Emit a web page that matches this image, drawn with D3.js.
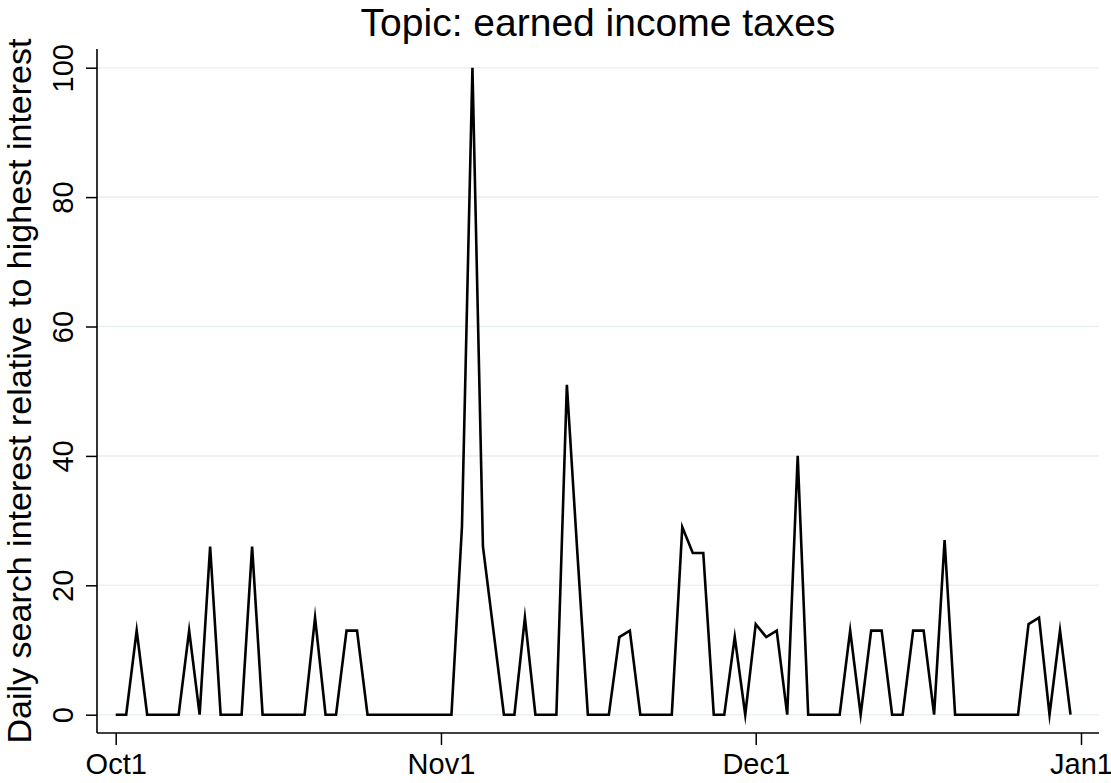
<!DOCTYPE html>
<html>
<head>
<meta charset="utf-8">
<script src="https://cdn.jsdelivr.net/npm/d3@7"></script>
<style>
  html, body { margin: 0; padding: 0; background: #fff; }
  svg { display: block; }
  text { font-family: "Liberation Sans", Arial, Helvetica, sans-serif; fill: #000; }
</style>
</head>
<body>
<svg id="chart" width="1111" height="783"></svg>
<script>
// ---- data ----
const title = "Topic: earned income taxes";
const yTitle = "Daily search interest relative to highest interest";
const startDate = "2018-10-01";
const values = [
  0, 0, 13, 0, 0, 0, 0, 13, 0, 26,
  0, 0, 0, 26, 0, 0, 0, 0, 0, 15,
  0, 0, 13, 13, 0, 0, 0, 0, 0, 0,
  0, 0, 0, 29, 100, 26, 13, 0, 0, 15,
  0, 0, 0, 51, 25, 0, 0, 0, 12, 13,
  0, 0, 0, 0, 29, 25, 25, 0, 0, 12,
  0, 14, 12, 13, 0, 40, 0, 0, 0, 0,
  13, 0, 13, 13, 0, 0, 13, 13, 0, 27,
  0, 0, 0, 0, 0, 0, 0, 14, 15, 0,
  13, 0
];
const xTickDates = ["2018-10-01", "2018-11-01", "2018-12-01", "2019-01-01"];
const xTickLabels = ["Oct1", "Nov1", "Dec1", "Jan1"];
const yTicks = [0, 20, 40, 60, 80, 100];

// ---- layout ----
const svg = d3.select("#chart");
const parse = d3.utcParse("%Y-%m-%d");
const t0 = parse(startDate);
const series = values.map((v, i) => ({ date: d3.utcDay.offset(t0, i), value: v }));
const tickDates = xTickDates.map(parse);

const plot = { left: 97, right: 1099, top: 49, bottom: 733 };

const x = d3.scaleUtc()
  .domain([tickDates[0], tickDates[tickDates.length - 1]])
  .range([115.7, 1081]);
const y = d3.scaleLinear().domain([0, 100]).range([714.7, 67.7]);

// gridlines
svg.append("g").selectAll("line").data(yTicks).join("line")
  .attr("x1", plot.left).attr("x2", plot.right)
  .attr("y1", d => y(d)).attr("y2", d => y(d))
  .attr("stroke", "#e9f1f3").attr("stroke-width", 1.6);

// y axis
const yAxis = d3.axisLeft(y).tickValues(yTicks).tickSize(11).tickFormat(d3.format("d"));
const gy = svg.append("g").attr("transform", `translate(${plot.left},0)`).call(yAxis);
gy.select(".domain").remove();
gy.selectAll(".tick line").attr("stroke", "#000").attr("stroke-width", 1.5);
gy.selectAll(".tick text")
  .attr("font-size", 29)
  .attr("text-anchor", "middle")
  .attr("dy", null)
  .attr("x", null)
  .attr("transform", "translate(-24,0) rotate(-90)")
  .attr("y", 0);
svg.append("line")
  .attr("x1", plot.left).attr("x2", plot.left)
  .attr("y1", plot.top).attr("y2", plot.bottom)
  .attr("stroke", "#000").attr("stroke-width", 1.6);

// x axis
const xAxis = d3.axisBottom(x).tickValues(tickDates).tickSize(12)
  .tickFormat((d, i) => xTickLabels[i]);
const gx = svg.append("g").attr("transform", `translate(0,${plot.bottom})`).call(xAxis);
gx.select(".domain").remove();
gx.selectAll(".tick line").attr("stroke", "#000").attr("stroke-width", 1.5);
gx.selectAll(".tick text")
  .attr("font-size", 29)
  .attr("dy", null)
  .attr("y", 41);
svg.append("line")
  .attr("x1", plot.left).attr("x2", plot.right)
  .attr("y1", plot.bottom).attr("y2", plot.bottom)
  .attr("stroke", "#000").attr("stroke-width", 1.6);

// data line
const line = d3.line().x(d => x(d.date)).y(d => y(d.value));
svg.append("path").datum(series)
  .attr("d", line)
  .attr("fill", "none")
  .attr("stroke", "#000")
  .attr("stroke-width", 2.6)
  .attr("stroke-linejoin", "miter")
  .attr("stroke-miterlimit", 10);

// title
svg.append("text")
  .attr("x", (plot.left + plot.right) / 2)
  .attr("y", 36)
  .attr("text-anchor", "middle")
  .attr("font-size", 39)
  .text(title);

// y title
svg.append("text")
  .attr("transform", `translate(31,${(plot.top + plot.bottom) / 2}) rotate(-90)`)
  .attr("text-anchor", "middle")
  .attr("font-size", 34)
  .text(yTitle);
</script>
</body>
</html>
